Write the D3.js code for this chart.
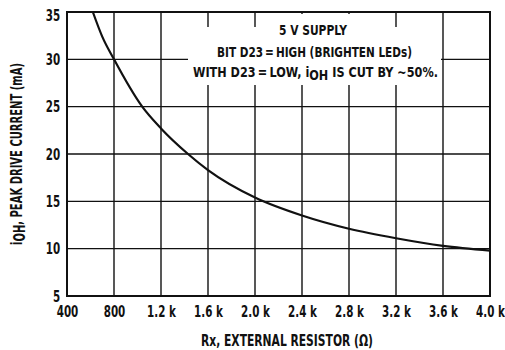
<!DOCTYPE html>
<html>
<head>
<meta charset="utf-8">
<script src="https://cdn.jsdelivr.net/npm/d3@7/dist/d3.min.js"></script>
<style>
  html, body { margin: 0; padding: 0; background: #fff; }
  svg text { font-family: "DejaVu Sans Condensed", "Liberation Sans Narrow", sans-serif; font-weight: bold; fill: #111; }
</style>
</head>
<body>
<svg id="chart" width="505" height="350"></svg>
<script>
// External resistor (ohms) vs peak drive current (mA)
const resistance = [620, 700, 800, 1040, 1200, 1430, 1600, 2000, 2400, 2800, 3200, 3600, 4000];
const current    = [35, 32.4, 30, 25, 22.7, 20, 18.3, 15.4, 13.5, 12.1, 11.1, 10.3, 9.8];

const xTicks = [400, 800, 1200, 1600, 2000, 2400, 2800, 3200, 3600, 4000];
const xTickLabels = ["400", "800", "1.2 k", "1.6 k", "2.0 k", "2.4 k", "2.8 k", "3.2 k", "3.6 k", "4.0 k"];
const yTicks = [5, 10, 15, 20, 25, 30, 35];

const svg = d3.select("#chart");
const plotL = 67, plotR = 490, plotT = 12, plotB = 296;

const x = d3.scaleLinear().domain([400, 4000]).range([plotL, plotR]);
const y = d3.scaleLinear().domain([5, 35]).range([plotB, plotT]);

// narrow lettering: squeeze glyphs horizontally about their anchor
const squeeze = 0.72;

// grid
const grid = svg.append("g").attr("stroke", "#111").attr("stroke-width", 1.4);
grid.selectAll(".vx").data(xTicks).join("line")
  .attr("x1", d => x(d)).attr("x2", d => x(d))
  .attr("y1", plotT).attr("y2", plotB);
grid.selectAll(".hy").data(yTicks).join("line")
  .attr("x1", plotL).attr("x2", plotR)
  .attr("y1", d => y(d)).attr("y2", d => y(d));

// white panel behind the note
svg.append("rect").attr("x", 265).attr("y", 14).attr("width", 120).attr("height", 20).attr("fill", "#fff");
svg.append("rect").attr("x", 188).attr("y", 27).attr("width", 253).attr("height", 58).attr("fill", "#fff");

// frame
svg.append("rect").attr("x", plotL).attr("y", plotT)
  .attr("width", plotR - plotL).attr("height", plotB - plotT)
  .attr("fill", "none").attr("stroke", "#111").attr("stroke-width", 2);

// curve
const pts = resistance.map((r, i) => [r, current[i]]);
svg.append("path")
  .attr("d", d3.line().x(d => x(d[0])).y(d => y(d[1])).curve(d3.curveMonotoneX)(pts))
  .attr("fill", "none").attr("stroke", "#111").attr("stroke-width", 2.2);

// tick labels
const xAxis = d3.axisBottom(x).tickValues(xTicks).tickSize(0).tickPadding(10)
  .tickFormat((d, i) => xTickLabels[i]);
const gx = svg.append("g").attr("transform", `translate(0,${plotB})`).call(xAxis);
gx.select(".domain").remove();
gx.attr("font-family", null).attr("font-size", null);
gx.selectAll("text").style("font-size", "16px").attr("fill", "#111")
  .attr("transform", `scale(${squeeze},1)`);

const yAxis = d3.axisLeft(y).tickValues(yTicks).tickSize(0).tickPadding(4);
const gy = svg.append("g").attr("transform", `translate(${plotL},0)`).call(yAxis);
gy.select(".domain").remove();
gy.attr("font-family", null).attr("font-size", null);
gy.selectAll("text").style("font-size", "16px").attr("fill", "#111")
  .attr("transform", `translate(-4,0) scale(${squeeze},1)`);
gy.selectAll(".tick").filter(d => d === 35).select("text").attr("dy", "0.55em");

// axis titles
svg.append("text").attr("x", 287).attr("y", 346).attr("text-anchor", "middle")
  .attr("textLength", 172).attr("lengthAdjust", "spacingAndGlyphs")
  .style("font-size", "15px").text("Rx, EXTERNAL RESISTOR (\u03A9)");

const yt = svg.append("text").attr("transform", "translate(22,154) rotate(-90)")
  .attr("text-anchor", "middle").style("font-size", "15px")
  .attr("textLength", 182).attr("lengthAdjust", "spacingAndGlyphs");
yt.append("tspan").text("i");
yt.append("tspan").attr("dy", 3).text("OH");
yt.append("tspan").attr("dy", -3).text(", PEAK DRIVE CURRENT (mA)");

// note
const note = svg.append("g").style("font-size", "14px").attr("text-anchor", "middle");
note.append("text").attr("x", 313).attr("y", 35)
  .attr("textLength", 68).attr("lengthAdjust", "spacingAndGlyphs").text("5 V SUPPLY");
note.append("text").attr("x", 314.5).attr("y", 57)
  .attr("textLength", 195).attr("lengthAdjust", "spacingAndGlyphs")
  .text("BIT D23\u2009=\u2009HIGH (BRIGHTEN LEDs)");
const l3 = note.append("text").attr("x", 315.5).attr("y", 77)
  .attr("textLength", 245).attr("lengthAdjust", "spacingAndGlyphs");
l3.append("tspan").text("WITH D23\u2009=\u2009LOW, i");
l3.append("tspan").attr("dy", 3).text("OH");
l3.append("tspan").attr("dy", -3).text(" IS CUT BY  \u223C50%.");
</script>
</body>
</html>
